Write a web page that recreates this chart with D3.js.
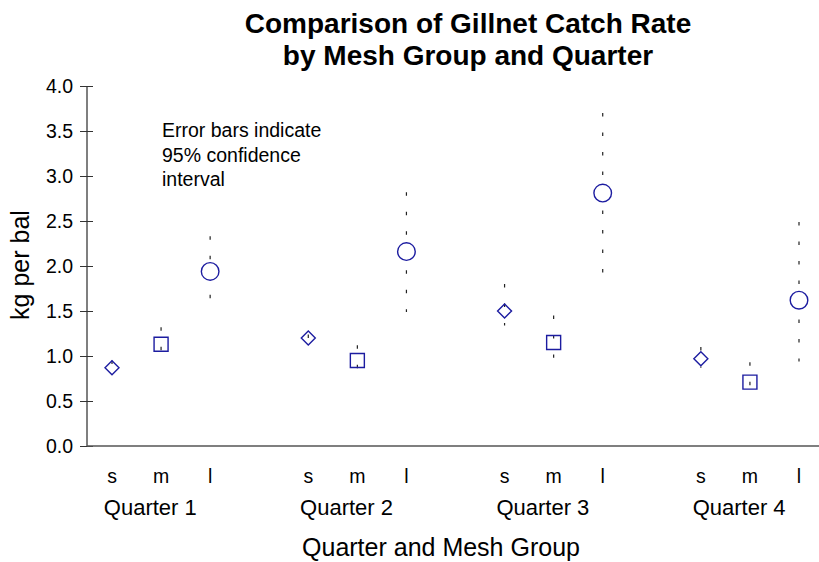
<!DOCTYPE html>
<html><head><meta charset="utf-8">
<script src="https://cdn.jsdelivr.net/npm/d3@7"></script>
<style>body{margin:0;background:#fff}svg{display:block;font-family:Arial,"Liberation Sans",sans-serif}</style>
</head><body><div id="chart"></div>
<script>
const quarters = ["Quarter 1", "Quarter 2", "Quarter 3", "Quarter 4"];
const meshes = ["s", "m", "l"];
const meanS = [0.87, 1.20, 1.50, 0.97];
const meanM = [1.13, 0.95, 1.15, 0.71];
const meanL = [1.94, 2.16, 2.81, 1.62];
const lowS = [0.80, 1.16, 1.34, 0.87];
const lowM = [1.05, 0.84, 0.98, 0.62];
const lowL = [1.64, 1.49, 1.92, 0.94];
const upS = [0.95, 1.24, 1.80, 1.10];
const upM = [1.32, 1.12, 1.45, 0.93];
const upL = [2.33, 2.82, 3.70, 2.49];
const yTicks = [0, 0.5, 1, 1.5, 2, 2.5, 3, 3.5, 4];
const titleLines = ["Comparison of Gillnet Catch Rate", "by Mesh Group and Quarter"];
const noteLines = ["Error bars indicate", "95% confidence", "interval"];

const W = 819, H = 562;
const svg = d3.select("#chart").append("svg").attr("width", W).attr("height", H);
const markerColor = "#1c1ca0";

const y = d3.scaleLinear().domain([0, 4]).range([446, 86]);
const x = d3.scaleLinear().domain([0, 14]).range([112, 799]);

const means = [meanS, meanM, meanL], lows = [lowS, lowM, lowL], ups = [upS, upM, upL];
const pts = [];
quarters.forEach((q, qi) => meshes.forEach((m, mi) => {
  pts.push({q: qi, m: mi, pos: qi * 4 + mi, mean: means[mi][qi], lo: lows[mi][qi], hi: ups[mi][qi]});
}));

// title
svg.append("g").selectAll("text").data(titleLines).join("text")
  .attr("x", 468).attr("y", (d, i) => 33 + i * 32)
  .attr("text-anchor", "middle").attr("font-size", 28).attr("font-weight", "bold").text(d => d);

// y axis
const yAxis = d3.axisLeft(y).tickValues(yTicks).tickFormat(d3.format(".1f")).tickSize(7).tickPadding(7);
const gy = svg.append("g").attr("transform", "translate(87,0)").call(yAxis);
gy.select(".domain").attr("stroke", "#555").attr("stroke-width", 1.5).attr("d", `M0,${y(4)}V${y(0)}`);
gy.selectAll(".tick line").attr("x1", 6).attr("x2", -7).attr("stroke", "#333");
gy.selectAll(".tick text").attr("font-size", 19.5).attr("fill", "#000").attr("font-family", "Arial, 'Liberation Sans', sans-serif");

// x axis line
svg.append("line").attr("x1", 87).attr("x2", 819).attr("y1", y(0)).attr("y2", y(0))
  .attr("stroke", "#555").attr("stroke-width", 1.5);

// mesh labels
svg.append("g").selectAll("text").data(pts).join("text")
  .attr("x", d => x(d.pos)).attr("y", 483).attr("text-anchor", "middle")
  .attr("font-size", 19.5).text(d => meshes[d.m]);
// quarter labels
svg.append("g").selectAll("text").data(quarters).join("text")
  .attr("x", (d, i) => x(i * 4 + 0.78)).attr("y", 515).attr("text-anchor", "middle")
  .attr("font-size", 22).text(d => d);

// axis titles
svg.append("text").attr("x", 441).attr("y", 556).attr("text-anchor", "middle")
  .attr("font-size", 25).text("Quarter and Mesh Group");
svg.append("text").attr("transform", "translate(29,265) rotate(-90)").attr("text-anchor", "middle")
  .attr("font-size", 25).text("kg per bal");

// note
svg.append("g").selectAll("text").data(noteLines).join("text")
  .attr("x", 162).attr("y", (d, i) => 137 + i * 24.5).attr("font-size", 19.5).text(d => d);

// error bars
svg.append("g").selectAll("line").data(pts).join("line")
  .attr("x1", d => x(d.pos)).attr("x2", d => x(d.pos))
  .attr("y1", d => y(d.hi)).attr("y2", d => y(d.lo))
  .attr("stroke", "#222").attr("stroke-width", 1.2).attr("stroke-dasharray", "3.5,16");

// markers
svg.append("g").selectAll("path").data(pts).join("path")
  .attr("transform", d => `translate(${x(d.pos)},${y(d.mean)})`)
  .attr("fill", d => d.m === 2 ? "#fff" : "none").attr("stroke", markerColor).attr("stroke-width", 1.4)
  .attr("d", d => {
    if (d.m === 0) return "M0,-7L7,0L0,7L-7,0Z";
    if (d.m === 1) return "M-7,-7H7V7H-7Z";
    return d3.arc()({innerRadius: 0, outerRadius: 8.8, startAngle: 0, endAngle: 2 * Math.PI});
  });
</script></body></html>
